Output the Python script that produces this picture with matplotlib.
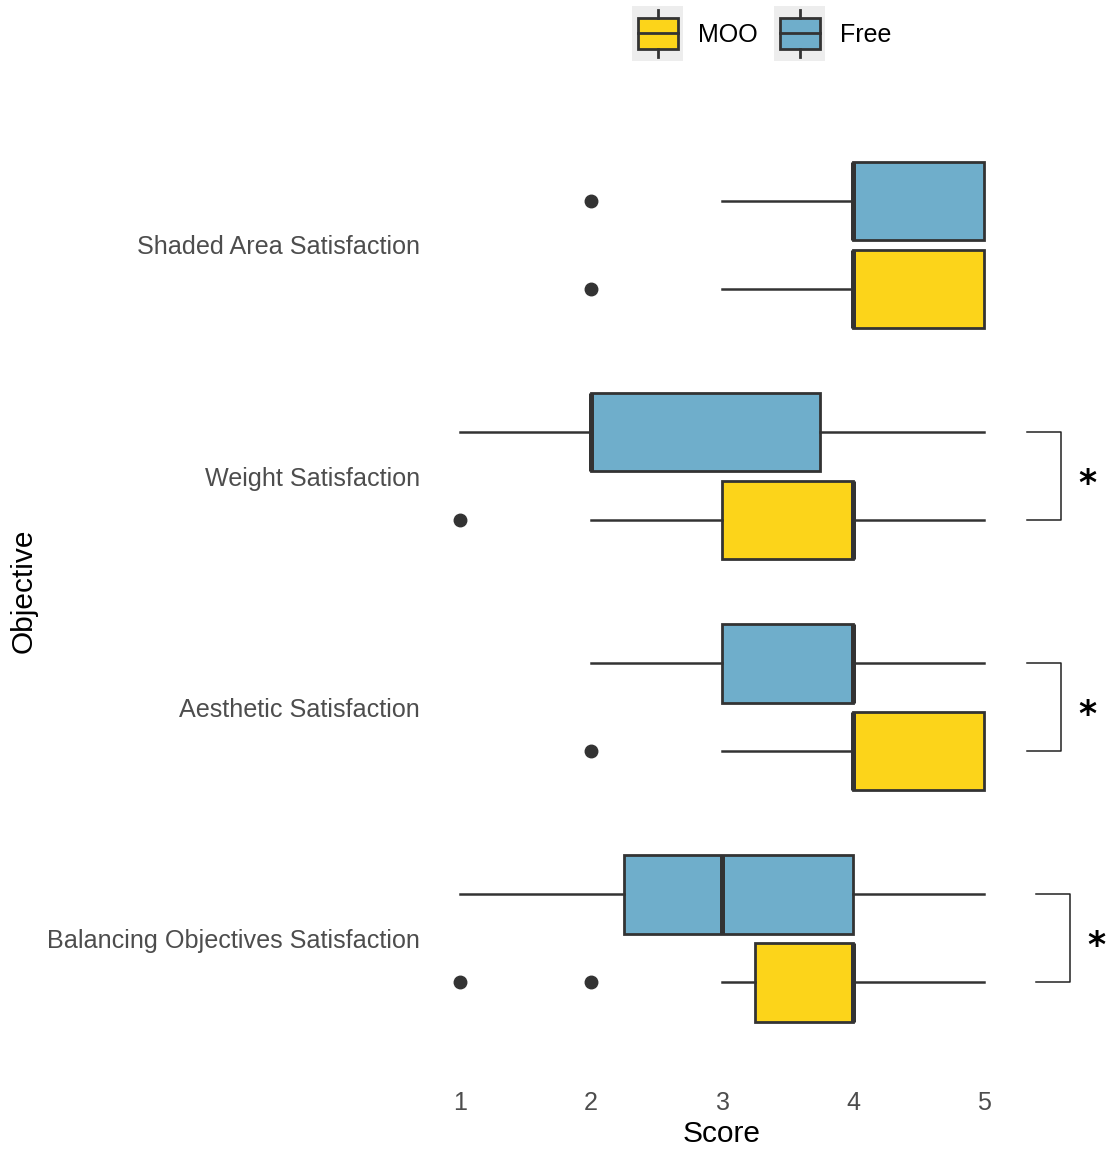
import matplotlib
matplotlib.use("Agg")
import matplotlib.pyplot as plt
from matplotlib.patches import Rectangle, Patch
from matplotlib.lines import Line2D
from matplotlib.legend_handler import HandlerBase

plt.rcParams['font.family'] = ['Liberation Sans', 'DejaVu Sans']

# objectives, top to bottom
objectives = ['Shaded Area Satisfaction', 'Weight Satisfaction',
              'Aesthetic Satisfaction', 'Balancing Objectives Satisfaction']

# box summaries per objective: whisker low, q1, median, q3, whisker high
free_whislo = [3, 1, 2, 1]
free_q1 = [4, 2, 3, 2.25]
free_med = [4, 2, 4, 3]
free_q3 = [5, 3.75, 4, 4]
free_whishi = [5, 5, 5, 5]
free_fliers = [[2], [], [], []]

moo_whislo = [3, 2, 3, 3]
moo_q1 = [4, 3, 4, 3.25]
moo_med = [4, 4, 4, 4]
moo_q3 = [5, 4, 5, 4]
moo_whishi = [5, 5, 5, 5]
moo_fliers = [[2], [1], [2], [1, 2]]

# which objectives have a significant MOO/Free difference
significant = [False, True, True, True]

col_moo = '#FCD41A'
col_free = '#6FAECB'
edge = '#333333'

def stats(lo, q1, med, q3, hi, fl):
    return [dict(whislo=a, q1=b, med=c, q3=d, whishi=e, fliers=f)
            for a, b, c, d, e, f in zip(lo, q1, med, q3, hi, fl)]

fig = plt.figure(figsize=(11.11, 11.53), dpi=100)
ax = fig.add_axes([0.3906, 0.0659, 0.5185, 0.842])

ypos = [4, 3, 2, 1]
off = 0.19
bw = 0.34

for st, fc, shift in [(stats(free_whislo, free_q1, free_med, free_q3, free_whishi, free_fliers), col_free, off),
                      (stats(moo_whislo, moo_q1, moo_med, moo_q3, moo_whishi, moo_fliers), col_moo, -off)]:
    ax.bxp(st, positions=[p + shift for p in ypos], widths=bw, vert=False,
           patch_artist=True, showcaps=False,
           boxprops=dict(facecolor=fc, edgecolor=edge, linewidth=2.0),
           medianprops=dict(color=edge, linewidth=3.6, solid_capstyle='butt'),
           whiskerprops=dict(color=edge, linewidth=1.8),
           flierprops=dict(marker='o', markerfacecolor=edge, markeredgecolor=edge,
                           markersize=9))

ax.set_xlim(0.8, 5.2)
ax.set_ylim(0.4, 4.6)
ax.set_yticks(ypos)
ax.set_yticklabels(objectives)
ax.set_xticks([1, 2, 3, 4, 5])
ax.tick_params(axis='both', length=0, labelsize=18.1, labelcolor='#4D4D4D', pad=10)
for s in ax.spines.values():
    s.set_visible(False)
ax.set_xlabel('Score', fontsize=21.5, labelpad=4)
fig.text(0.021, 0.488, 'Objective', rotation=90, fontsize=21.5,
         ha='center', va='center')

# significance brackets
for p, sig in zip(ypos, significant):
    if not sig:
        continue
    x0, x1 = (5.40, 5.66) if p == 1 else (5.33, 5.59)
    ax.plot([x0, x1, x1, x0], [p + off, p + off, p - off, p - off],
            color='#222222', linewidth=1.1, clip_on=False)
    ax.text(x1 + 0.2, p - 0.035, '*', fontsize=25, fontweight='bold',
            family='DejaVu Sans', ha='center', va='center', clip_on=False)


class BoxKey(HandlerBase):
    def create_artists(self, legend, orig_handle, xdescent, ydescent,
                       width, height, fontsize, trans):
        fc = orig_handle.get_facecolor()
        bg = Rectangle((-xdescent - 4, -ydescent - 12), width + 8, height + 24,
                       facecolor='#EDEDED', edgecolor='none', transform=trans)
        box = Rectangle((-xdescent, -ydescent - 3), width, height + 6,
                        facecolor=fc, edgecolor=edge, linewidth=2, transform=trans)
        cx = -xdescent + width / 2
        mid = -ydescent + height / 2
        med = Line2D([-xdescent, -xdescent + width], [mid, mid], color=edge,
                     linewidth=2, transform=trans)
        w1 = Line2D([cx, cx], [-ydescent - 3, -ydescent - 9], color=edge,
                    linewidth=2, transform=trans)
        w2 = Line2D([cx, cx], [-ydescent + height + 3, -ydescent + height + 9],
                    color=edge, linewidth=2, transform=trans)
        return [bg, box, med, w1, w2]


handles = [Patch(facecolor=col_moo), Patch(facecolor=col_free)]
fig.legend(handles, ['MOO', 'Free'], handler_map={Patch: BoxKey()},
           loc='center', bbox_to_anchor=(0.688, 0.97), ncol=2, frameon=False,
           fontsize=18, handlelength=1.6, handleheight=1.0, handletextpad=0.8,
           columnspacing=0.9)

fig.savefig('out.png', dpi=100)
